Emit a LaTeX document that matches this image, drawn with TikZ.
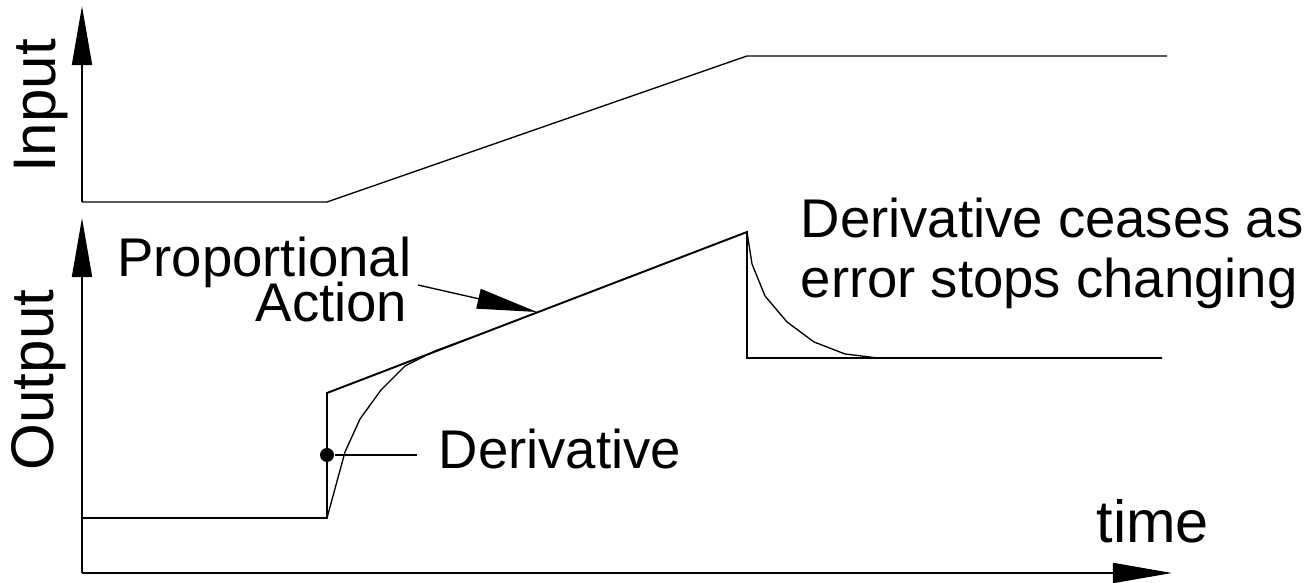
\documentclass[tikz,border=0pt]{standalone}
\usepackage{fontspec}
\setmainfont{Liberation Sans}
\usetikzlibrary{arrows.meta}

\begin{document}
\begin{tikzpicture}[x=0.01cm, y=-0.01cm,
    axis/.style={line width=0.5pt, -{Triangle[length=5.9mm, width=2mm]}},
    curve/.style={line width=0.38pt},
    lbl/.style={inner sep=0pt, font=\fontsize{15.5}{18}\selectfont},
    axlbl/.style={inner sep=0pt, rotate=90, anchor=base, font=\fontsize{17.1}{20}\selectfont}]
    \useasboundingbox (0,0) rectangle (1316,583);

    % axes
    \coordinate (inorigin) at (82,202);
    \coordinate (intip) at (82,6);
    \coordinate (outorigin) at (82,573);
    \coordinate (outtip) at (82,218);
    \coordinate (timetip) at (1172,573);
    \draw[axis] (inorigin) -- (intip);
    \draw[axis] (outorigin) -- (outtip);
    \draw[axis] (outorigin) -- (timetip);

    \node[axlbl] (input) at (55,106) {Input};
    \node[axlbl] (output) at (54,380) {Output};
    \node[lbl, anchor=base west, font=\fontsize{16.9}{20}\selectfont] (time) at (1096,543) {time};

    % input ramp
    \draw[curve] (inorigin) -- (327,202) -- (747,56) -- (1167,56);

    % proportional part
    \draw[curve, line width=0.55pt] (82,518) -- (327,518) -- (327,393) -- (747,232) -- (747,358) -- (1162,358);

    % derivative part
    \draw[curve] (327,518) -- (345,452) -- (360,419) -- (381,390) -- (405,366) -- (435,351) -- (470,338);
    \draw[curve] (747,232) -- (752,264) -- (765,296) -- (787,322) -- (814,342) -- (845,354) -- (878,358);

    % labels
    \node[lbl, anchor=base east] (prop) at (412,277) {Proportional};
    \node[lbl, anchor=base east] (act) at (408,322) {Action};
    \coordinate (propstart) at (418,285);
    \coordinate (proptip) at (537,312);
    \draw[curve, -{Triangle[length=6mm, width=2mm]}] (propstart) -- (proptip);

    \node[circle, fill, inner sep=0pt, minimum size=0.14cm] (dot) at (327,455) {};
    \node[lbl, anchor=base west] (deriv) at (438,469) {Derivative};
    \coordinate (derivend) at (417,455);
    \draw[curve] (dot) -- (derivend);

    \node[lbl, anchor=base west] (cease) at (800,238) {Derivative ceases as};
    \node[lbl, anchor=base west] (stops) at (800,298) {error stops changing};
\end{tikzpicture}
\end{document}
